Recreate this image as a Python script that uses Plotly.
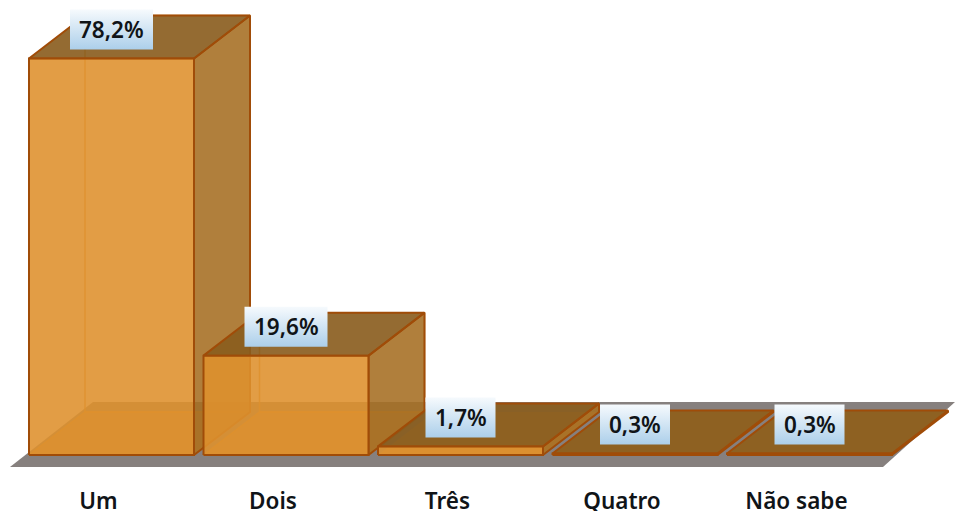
import plotly.graph_objects as go

categories = ["Um", "Dois", "Três", "Quatro", "Não sabe"]
values = [78.2, 19.6, 1.7, 0.3, 0.3]
value_labels = ["78,2%", "19,6%", "1,7%", "0,3%", "0,3%"]

W, H, PLOT_BOTTOM = 955, 511, 470
PX_PER_CAT = 174.5
PX_PER_VAL = 5.07
ORIGIN_X = 29
ORIGIN_Y = 455
BAR_W = 165 / PX_PER_CAT
DX = 56 / PX_PER_CAT
DY = 43 / PX_PER_VAL
EDGE = "rgb(160,76,8)"
INNER = "rgba(222,140,35,0.8)"


def ux(px):
    return (px - ORIGIN_X) / PX_PER_CAT


def uy(px):
    return (ORIGIN_Y - px) / PX_PER_VAL


fig = go.Figure()


def poly(xs, ys, fill, line=None, width=2, **kw):
    fig.add_trace(go.Scatter(
        x=list(xs) + [xs[0]], y=list(ys) + [ys[0]], mode="lines", fill="toself",
        fillcolor=fill, line=dict(color=line or "rgba(0,0,0,0)", width=width if line else 0),
        hoverinfo="skip", showlegend=False, **kw))


# floor
poly([ux(10), ux(883), ux(955), ux(93)],
     [uy(467), uy(467), uy(402), uy(402)], "rgb(134,128,126)")

for i, v in enumerate(values):
    x0, x1 = i, i + BAR_W
    # back, left, bottom (seen through the front)
    poly([x0 + DX, x1 + DX, x1 + DX, x0 + DX], [DY, DY, DY + v, DY + v],
         "rgba(225,150,50,0.10)", INNER if v > 5 else None, 1.5)
    poly([x0, x0 + DX, x0 + DX, x0], [0, DY, DY + v, v], "rgba(225,150,50,0.10)")
    poly([x0, x1, x1 + DX, x0 + DX], [0, 0, DY, DY], "rgba(225,150,50,0.68)",
         INNER if v > 5 else None, 1.5)
    # right side
    poly([x1, x1 + DX, x1 + DX, x1], [0, DY, DY + v, v], "rgba(165,110,35,0.88)", EDGE)
    # top
    poly([x0, x1, x1 + DX, x0 + DX], [v, v, DY + v, DY + v], "rgba(136,92,30,0.90)", EDGE)
    # front
    poly([x0, x1, x1, x0], [0, 0, v, v], "rgba(222,145,45,0.88)", EDGE)

for i, (v, t) in enumerate(zip(values, value_labels)):
    cx = i + BAR_W / 2
    cy = v + 29 / PX_PER_VAL
    hw = (41.5 if len(t) == 5 else 35) / PX_PER_CAT
    hh = 20 / PX_PER_VAL
    fig.add_trace(go.Scatter(
        x=[cx - hw, cx + hw, cx + hw, cx - hw, cx - hw],
        y=[cy - hh, cy - hh, cy + hh, cy + hh, cy - hh],
        mode="lines", fill="toself", line=dict(width=0, color="rgba(0,0,0,0)"),
        fillgradient=dict(type="vertical",
                          colorscale=[[0, "rgb(172,207,234)"], [1, "rgb(246,250,253)"]]),
        hoverinfo="skip", showlegend=False))
    fig.add_annotation(x=cx, y=cy, text=t, showarrow=False,
                       font=dict(family="Noto Sans", size=22.5, color="#101418", weight=600))

fig.update_layout(
    width=W, height=H, autosize=False, showlegend=False,
    margin=dict(l=0, r=0, t=0, b=H - PLOT_BOTTOM, pad=0),
    paper_bgcolor="white", plot_bgcolor="white",
    xaxis=dict(range=[ux(0), ux(W)], showgrid=False, zeroline=False, showline=False,
               tickmode="array", tickvals=[i + 0.398 for i in range(len(categories))],
               ticktext=categories, ticks="", ticklen=0, ticklabelstandoff=15, automargin=False,
               tickfont=dict(family="Noto Sans", size=22.5, color="#101418", weight=600)),
    yaxis=dict(range=[uy(PLOT_BOTTOM), uy(0)], visible=False, automargin=False),
)
fig.write_html("out.html", config={"displayModeBar": False},
               post_script="document.body.style.margin='0';document.body.style.overflow='hidden';")
